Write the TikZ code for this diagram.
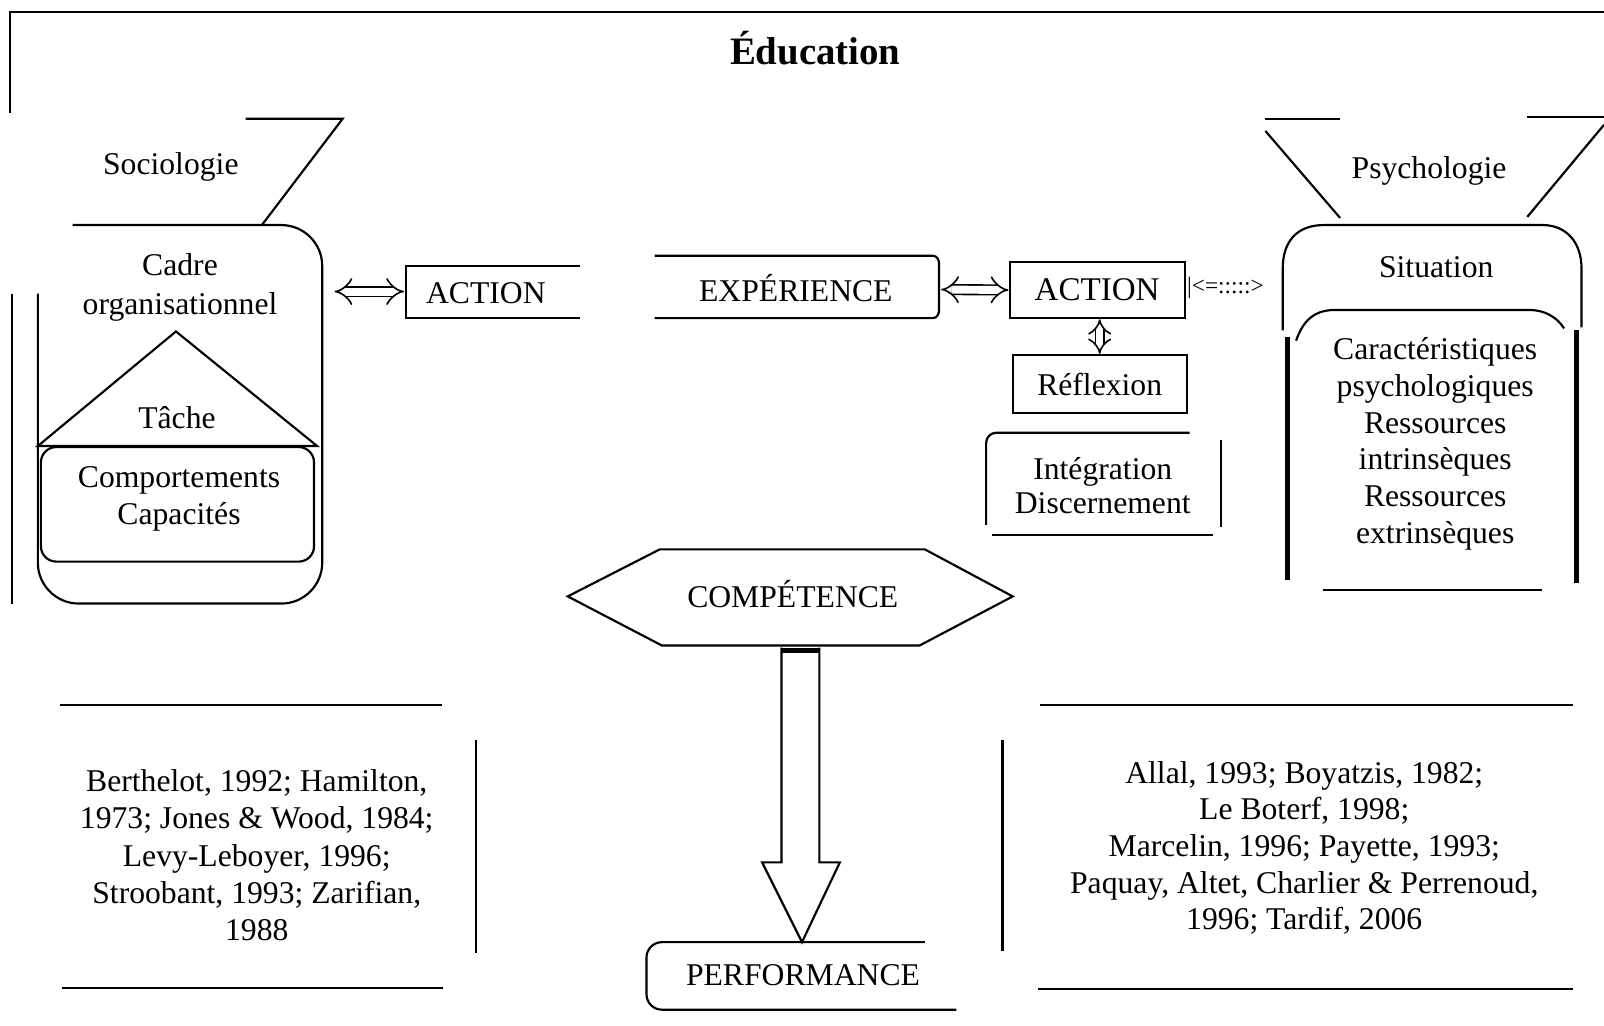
\documentclass[tikz,border=0pt]{standalone}
\usepackage{fontspec}
\setmainfont{Liberation Serif}
\usetikzlibrary{arrows.meta,calc}
\begin{document}
\begin{tikzpicture}[x=0.01cm,y=-0.01cm,line width=0.6pt,
  every node/.style={inner sep=0pt,align=center,font=\fontsize{8.8}{10.2}\selectfont},
  dbl/.style={double,double distance=2.2pt,line width=0.45pt,{Implies}-{Implies}},
  dblv/.style={double,double distance=1.8pt,line width=0.45pt,{Implies[scale=0.6]}-{Implies[scale=0.6]}},
  thickside/.style={line width=1.4pt}]
\useasboundingbox (0,0) rectangle (1568,1002);
\draw (10,110) -- (10,12) -- (1568,12);
\node[font=\fontsize{10.8}{12}\selectfont\bfseries] (educ) at (797,47) {Éducation};

\draw (240,116) -- (335,116) -- (256,220);
\node (socio) at (167,163) {Sociologie};
\draw (12,287) -- (12,590);
\draw[rounded corners=4mm] (71,220) -- (315,220) -- (315,590) -- (37,590) -- (37,287);
\node[font=\fontsize{8.8}{10.6}\selectfont] (cadre) at (176,281) {Cadre\\organisationnel};
\draw (37,436) -- (172,324) -- (310,436) -- cycle;
\node (tache) at (173,408) {Tâche};
\draw[rounded corners=1.5mm] (40,437) rectangle (307,549);
\node (comport) at (175,488) {Comportements\\Capacités};

\draw (567,260) -- (397,260) -- (397,311) -- (567,311);
\node (actA) at (475,287) {ACTION};
\coordinate (cadreE) at (327,285);
\coordinate (actAW) at (395,285);
\draw[dbl] (cadreE) -- (actAW);

\draw (640,250) -- (912,250) to[out=0,in=90] (918,258) -- (918,303) to[out=-90,in=0] (912,311) -- (640,311);
\node (exper) at (778,282) {EXPÉRIENCE};
\coordinate (experE) at (920,283);
\node[draw,minimum width=1.71cm,minimum height=0.55cm,font=\fontsize{9.2}{10}\selectfont] (actB) at (1072.5,283.5) {ACTION};
\draw[dbl] (experE) -- (actB.west);
\node[font=\fontsize{6.5}{7}\selectfont] (lnk) at (1198,281) {|<=:::::>};
\node[draw,minimum width=1.70cm,minimum height=0.57cm] (refl) at (1075,375.5) {Réflexion};
\draw[dblv] (actB.south -| refl.north) -- (refl.north);

\draw[rounded corners=1mm] (1163,423) -- (964,423) -- (964,513);
\draw (1194,430) -- (1194,515);
\draw (970,523) -- (1186,523);
\node[font=\fontsize{8.8}{9.4}\selectfont] (integ) at (1078,475) {Intégration\\Discernement};

\draw (1237,116) -- (1310,116);
\draw (1237,128) -- (1310,213);
\draw (1493,114) -- (1568,114);
\draw (1568,122) -- (1493,212);
\node (psycho) at (1397,167) {Psychologie};
\draw (1254,323) -- (1254,262) .. controls (1254,236) and (1268,220) .. (1294,220) -- (1508,220) .. controls (1532,220) and (1546,238) .. (1546,262) -- (1546,320);
\node (situ) at (1404,261) {Situation};
\draw (1267,333) .. controls (1274,313) and (1285,303) .. (1305,303) -- (1495,303) .. controls (1510,303) and (1522,310) .. (1529,321);
\draw[thickside] (1259,329) -- (1259,567);
\draw[thickside] (1541,323) -- (1541,570);
\draw (1293,577) -- (1507,577);
\node (carac) at (1403,434) {Caractéristiques\\psychologiques\\Ressources\\intrinsèques\\Ressources\\extrinsèques};

\draw (555,583) -- (645,537) -- (904,537) -- (990,583) -- (899,631) -- (647,631) -- cycle;
\node (compet) at (775,581) {COMPÉTENCE};
\coordinate (hexB) at (783,633);
\draw[rounded corners=1.5mm] (904,921) -- (632,921) -- (632,987) -- (935,987);
\node (perf) at (785,953) {PERFORMANCE};
\coordinate (perfT) at (784,921);
\draw ($(hexB)+(-19,0)$) -- ($(perfT)+(-20,-78)$) -- ($(perfT)+(-39,-78)$) -- (perfT) -- ($(perfT)+(37,-78)$) -- ($(perfT)+(17,-78)$) -- ($(hexB)+(18,0)$);
\draw[line width=1.3pt] ($(hexB)+(-19,3)$) -- ($(hexB)+(18,3)$);

\draw (59,689) -- (432,689);
\draw (61,966) -- (433,966);
\draw (465,723) -- (465,932);
\node[font=\fontsize{8.8}{10.4}\selectfont] (refsL) at (251,836) {Berthelot, 1992; Hamilton,\\1973; Jones \& Wood, 1984;\\Levy-Leboyer, 1996;\\Stroobant, 1993; Zarifian,\\1988};
\draw (1017,689) -- (1538,689);
\draw (1015,967) -- (1538,967);
\draw (980,723) -- (980,930);
\node (refsR) at (1275,829) {Allal, 1993; Boyatzis, 1982;\\Le Boterf, 1998;\\Marcelin, 1996; Payette, 1993;\\Paquay, Altet, Charlier \& Perrenoud,\\1996; Tardif, 2006};
\end{tikzpicture}
\end{document}
